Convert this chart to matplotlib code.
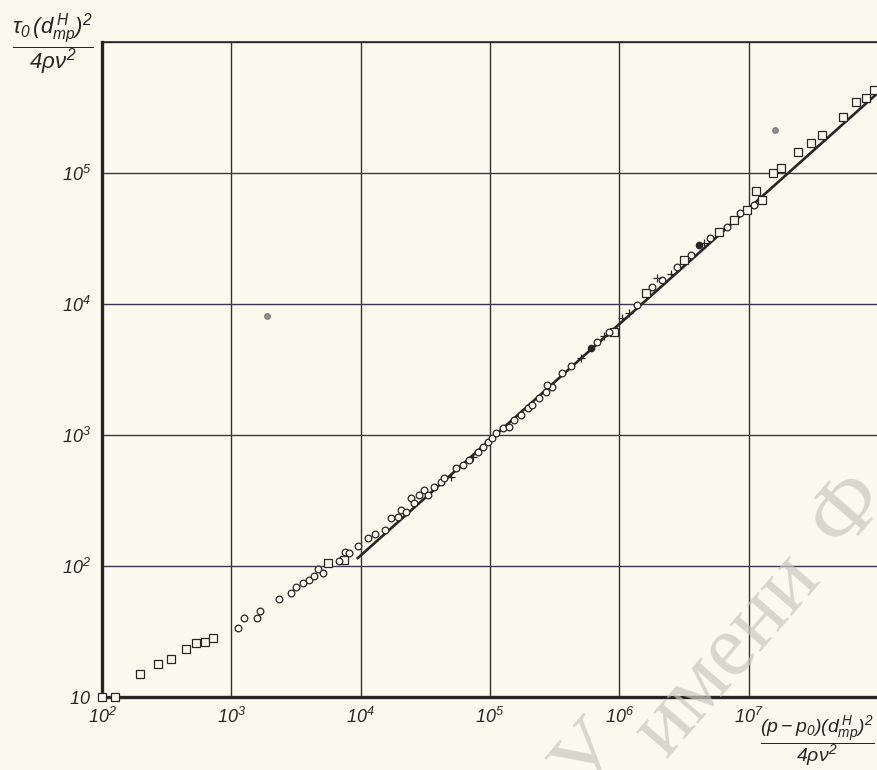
"""
Log-log plot of dimensionless yield stress vs pressure group
(scanned chart recreation)
"""

import matplotlib
matplotlib.use('Agg')
import matplotlib.pyplot as plt
from matplotlib.ticker import FixedLocator, FixedFormatter, NullLocator

# open squares
sq_x = [100, 126, 195, 269, 339, 447, 537, 631, 724, 5600, 7400,
        9.10e5, 1.60e6, 3.16e6, 5.88e6, 7.67e6, 9.73e6, 1.27e7,
        1.14e7, 1.55e7, 1.77e7, 2.39e7, 3.03e7, 3.68e7, 5.41e7,
        6.81e7, 8.13e7, 9.31e7]
sq_y = [10, 10, 15.1, 17.8, 19.5, 23.4, 25.7, 26.3, 28.2, 105, 112,
        6150, 1.22e4, 2.17e4, 3.57e4, 4.38e4, 5.22e4, 6.22e4,
        7.3e4, 1.0e5, 1.09e5, 1.45e5, 1.70e5, 1.95e5, 2.67e5,
        3.50e5, 3.76e5, 4.28e5]

# open circles
circ_x = [1120, 1260, 1580, 1660, 2340, 2880, 3160, 3550, 3980, 4370,
          4680, 5130, 6760, 7590, 8130, 9550,
          11350, 12800, 15300, 17200, 19300, 20500, 22400, 24500, 26000,
          28400, 31000, 33000, 37100, 41800, 44400, 54600, 61400, 69200,
          80200, 87500, 95700, 1.045e5, 1.109e5, 1.250e5, 1.406e5,
          1.538e5, 1.730e5, 1.950e5, 2.128e5, 2.399e5, 2.698e5, 3.034e5,
          2.78e5, 3.63e5, 4.21e5, 6.76e5, 8.34e5, 1.377e6, 1.80e6,
          2.15e6, 2.81e6, 3.55e6, 5.06e6, 6.81e6, 8.63e6, 1.094e7]
circ_y = [33.9, 39.8, 39.8, 45.7, 56.2, 61.7, 69.2, 74.1, 77.6, 83.2,
          95.5, 89.1, 110, 129, 126, 141,
          163, 175, 188, 231, 238, 267, 260, 329, 301,
          348, 380, 348, 403, 440, 467, 556, 590, 644,
          746, 815, 889, 944, 1030, 1125, 1156,
          1303, 1422, 1600, 1694, 1905, 2143, 2339,
          2400, 2950, 3350, 5100, 6100, 9820, 1.355e4,
          1.524e4, 1.928e4, 2.366e4, 3.177e4, 3.89e4, 4.92e4, 5.70e4]

# crosses
cross_x = [49900, 73300, 5.02e5, 7.62e5, 1.054e6, 1.189e6, 1.96e6,
           2.49e6, 4.51e6]
cross_y = [481, 676, 3900, 5700, 7780, 8600, 1.57e4, 1.71e4, 2.90e4]

# filled dots
dot_x = [6.01e5, 4.12e6]
dot_y = [4600, 2.82e4]

# smudges on the scan
smudge_x = [1875, 1.61e7]
smudge_y = [8090, 2.13e5]

# fitted line
fit_x = [9.5e3, 1.0e8]
fit_y = [115, 4.1e5]

x_ticks = [1e2, 1e3, 1e4, 1e5, 1e6, 1e7, 1e8]
x_tick_labels = ['$10^2$', '$10^3$', '$10^4$', '$10^5$', '$10^6$', '$10^7$', '']
y_ticks = [1e1, 1e2, 1e3, 1e4, 1e5, 1e6]
y_tick_labels = ['$10$', '$10^2$', '$10^3$', '$10^4$', '$10^5$', '']

paper = '#fcfaee'
ink = '#262626'

plt.rcParams['mathtext.fontset'] = 'custom'
plt.rcParams['mathtext.rm'] = 'Liberation Sans:italic'
plt.rcParams['mathtext.it'] = 'Liberation Sans:italic'
plt.rcParams['mathtext.bf'] = 'Liberation Sans:italic'

fig = plt.figure(figsize=(8.78, 7.70), dpi=100, facecolor=paper)
ax = fig.add_axes([0.1162, 0.0948, 0.8838, 0.8506], facecolor=paper)

ax.set_xscale('log')
ax.set_yscale('log')
ax.set_xlim(1e2, 1e8)
ax.set_ylim(1e1, 1e6)

ax.xaxis.set_major_locator(FixedLocator(x_ticks))
ax.xaxis.set_major_formatter(FixedFormatter(x_tick_labels))
ax.yaxis.set_major_locator(FixedLocator(y_ticks))
ax.yaxis.set_major_formatter(FixedFormatter(y_tick_labels))
ax.xaxis.set_minor_locator(NullLocator())
ax.yaxis.set_minor_locator(NullLocator())
ax.tick_params(length=0, labelsize=13, colors=ink)
ax.tick_params(axis='x', pad=7)
ax.tick_params(axis='y', pad=8)

ax.xaxis.grid(True, color='#333333', lw=1.0)
ax.yaxis.grid(True, color='#3e3552', lw=1.0)
ax.set_axisbelow(True)

for side, lw in [('left', 2.4), ('bottom', 2.4), ('top', 1.2), ('right', 1.0)]:
    ax.spines[side].set_linewidth(lw)
    ax.spines[side].set_color(ink)

ax.plot(fit_x, fit_y, color=ink, lw=1.9, zorder=3)
ax.plot(sq_x, sq_y, 's', ms=5.2, mfc=paper, mec=ink, mew=0.9, zorder=4,
        clip_on=False)
ax.plot(circ_x, circ_y, 'o', ms=4.8, mfc=paper, mec=ink, mew=0.9, zorder=4)
ax.plot(cross_x, cross_y, '+', ms=6, mec=ink, mew=0.9, zorder=5)
ax.plot(dot_x, dot_y, 'o', ms=4.5, color=ink, zorder=5)
ax.plot(smudge_x, smudge_y, 'o', ms=4, color='#777777', alpha=0.8, zorder=2)

# axis labels as fractions
fig.text(0.060, 0.942, r'$\dfrac{\tau_0\,(d^{\,H}_{mp})^2}{4\rho\nu^2}$',
         ha='center', va='center', fontsize=16, color=ink)
fig.text(0.931, 0.037, r'$\dfrac{(p-p_0)(d^{\,H}_{mp})^2}{4\rho\nu^2}$',
         ha='center', va='center', fontsize=14, color=ink)

# library watermark
wm = dict(family='Liberation Serif', color='#c9c7bf', alpha=0.7,
          rotation=49, rotation_mode='anchor', ha='center', va='center',
          zorder=10)
fig.text(728 / 878, 1 - 655 / 770, 'имени', fontsize=64, **wm)
fig.text(848 / 878, 1 - 510 / 770, 'Ф', fontsize=64, **wm)
fig.text(590 / 878, 1 - 758 / 770, 'У', fontsize=64, **wm)

fig.savefig('out.png', dpi=100, facecolor=paper)
